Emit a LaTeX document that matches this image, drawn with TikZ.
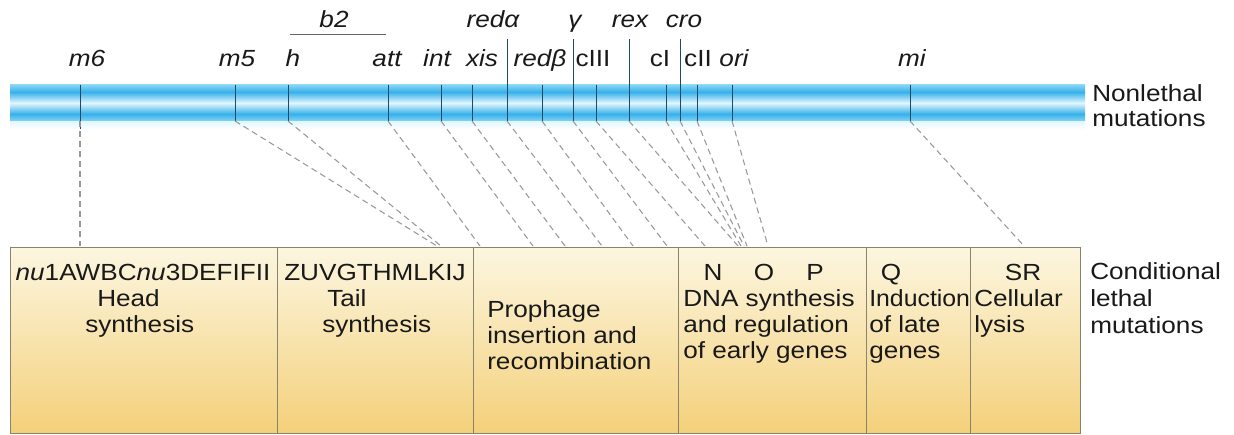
\documentclass[tikz,border=0pt]{standalone}
\usepackage{fontspec}
\setmainfont{Liberation Sans}[FakeStretch=1.12]
\begin{document}
\begin{tikzpicture}[x=0.75pt,y=-0.75pt,
  txt/.style={inner sep=0pt, font=\fontsize{17.5}{21}\selectfont, text=black!90},
  gene/.style={txt, anchor=base},
  lft/.style={txt, anchor=base west},
  ctr/.style={txt, anchor=base},
  tick/.style={draw=tickC, line width=0.7pt},
  conn/.style={draw=black!40, line width=0.8pt, dash pattern=on 4.5pt off 3pt},
  cell/.style={draw=borderC, line width=0.8pt, top color=cellTop, bottom color=cellBot, anchor=north west, inner sep=0pt, minimum height=139.5pt}
]
\definecolor{cellTop}{HTML}{FCF6E0}
\definecolor{cellBot}{HTML}{F4D07A}
\definecolor{barA}{HTML}{36B1EA}
\definecolor{barB}{HTML}{E2F6FD}
\definecolor{barC}{HTML}{86D4F5}
\definecolor{tickC}{HTML}{1F4A63}
\definecolor{borderC}{HTML}{8A836C}
\useasboundingbox (0,0) rectangle (1234,435);
\fill[white] (0,0) rectangle (1234,435);

% chromosome bar
\shade[top color=barC, bottom color=barA] (10,85) rectangle (1085,92);
\shade[top color=barA, bottom color=barB] (10,92) rectangle (1085,103);
\shade[top color=barB, bottom color=barA] (10,103) rectangle (1085,114);
\shade[top color=barA, bottom color=barC] (10,114) rectangle (1085,121);
\shade[top color=barB, bottom color=white] (10,121) rectangle (1085,130);

% tick coordinates
\foreach \n/\x in {m6/80, m5/235, h/288, att/388, int/441, xis/472, ra/507, rb/542, g/573, c3/596, rex/629, c1/666, cro/680, c2/697, ori/732, mi/910}{
  \coordinate (t-\n) at (\x,121);
  \coordinate (u-\n) at (\x,85);
}
\foreach \n in {m6, m5, h, att, int, xis, rb, c3, c1, c2, ori, mi}{
  \draw[tick] (u-\n) -- (t-\n);
}
\coordinate (ua-ra) at (507,39);
\coordinate (ua-g) at (573,39);
\coordinate (ua-rex) at (629,39);
\coordinate (ua-cro) at (680,39);
\draw[tick] (ua-ra) -- (t-ra);
\draw[tick] (ua-g) -- (t-g);
\draw[tick] (ua-rex) -- (t-rex);
\draw[tick] (ua-cro) -- (t-cro);
\draw[tick] (t-m6) -- ++(0,8);

% gene labels
\node[gene] (l-m6) at (87,67) {\itshape m6};
\node[gene] (l-m5) at (237,67) {\itshape m5};
\node[gene] (l-h) at (293,67) {\itshape h};
\node[gene] (l-att) at (387,67) {\itshape att};
\node[gene] (l-int) at (437,67) {\itshape int};
\node[gene] (l-xis) at (482,67) {\itshape xis};
\node[gene] (l-rb) at (540,67) {\itshape redβ};
\node[gene] (l-c3) at (593,67) {cIII};
\node[gene] (l-c1) at (660,67) {cI};
\node[gene] (l-c2) at (698,67) {cII};
\node[gene] (l-ori) at (734,67) {\itshape ori};
\node[gene] (l-mi) at (912,67) {\itshape mi};
\node[gene] (l-b2) at (334,28) {\itshape b2};
\node[gene] (l-ra) at (493,28) {\itshape redα};
\node[gene] (l-g) at (575,28) {\itshape γ};
\node[gene] (l-rex) at (630,28) {\itshape rex};
\node[gene] (l-cro) at (684,28) {\itshape cro};
\coordinate (b2a) at (290,34);
\coordinate (b2b) at (386,34);
\draw[draw=black!60, line width=0.7pt] (b2a) -- (b2b);

% side labels
\node[lft] (nl1) at (1092,101) {Nonlethal};
\node[lft] (nl2) at (1092,126) {mutations};
\node[lft] (cl1) at (1090,279) {Conditional};
\node[lft] (cl2) at (1090,306) {lethal};
\node[lft] (cl3) at (1090,333) {mutations};

% cells
\node[cell, minimum width=200.25pt] (c1) at (10,247) {};
\node[cell, minimum width=147pt] (c2) at (277,247) {};
\node[cell, minimum width=153.75pt] (c3) at (473,247) {};
\node[cell, minimum width=141pt] (c4) at (678,247) {};
\node[cell, minimum width=78pt] (c5) at (866,247) {};
\node[cell, minimum width=82.5pt] (c6) at (970,247) {};

% end coordinates on cell tops
\foreach \n/\x in {m6/80, m5/437, h/441, att/480, int/533, xis/565, ra/602, rb/633, g/667, c3/705, rex/738, c1/741, cro/744, c2/747, ori/768, mi/1024}{
  \coordinate (e-\n) at (\x,246);
}
\foreach \n in {m6, m5, h, att, int, xis, ra, rb, g, c3, rex, c1, cro, c2, ori, mi}{
  \draw[conn] (t-\n) -- (e-\n);
}

% cell texts
\node[ctr] (g1) at (143,280) {\itshape nu\upshape 1AWBC\itshape nu\upshape 3DEFIFII};
\node[lft] (h1) at (97,306) {Head};
\node[lft] (h2) at (85,332) {synthesis};
\node[ctr] (g2) at (375,280) {ZUVGTHMLKIJ};
\node[lft] (t1) at (327,306) {Tail};
\node[lft] (t2) at (322,332) {synthesis};
\node[lft] (p1) at (487,317) {Prophage};
\node[lft] (p2) at (487,343) {insertion and};
\node[lft] (p3) at (487,369) {recombination};
\node[ctr] (gN) at (713,280) {N};
\node[ctr] (gO) at (764,280) {O};
\node[ctr] (gP) at (815,280) {P};
\node[lft] (d1) at (683,306) {DNA synthesis};
\node[lft] (d2) at (683,332) {and regulation};
\node[lft] (d3) at (683,358) {of early genes};
\node[ctr] (gQ) at (891,280) {Q};
\node[lft] (q1) at (869,306) {\scalebox{0.95}[1]{Induction}};
\node[lft] (q2) at (869,332) {of late};
\node[lft] (q3) at (869,358) {genes};
\node[ctr] (gS) at (1023,280) {SR};
\node[lft] (s1) at (974,306) {Cellular};
\node[lft] (s2) at (974,332) {lysis};
\end{tikzpicture}
\end{document}
